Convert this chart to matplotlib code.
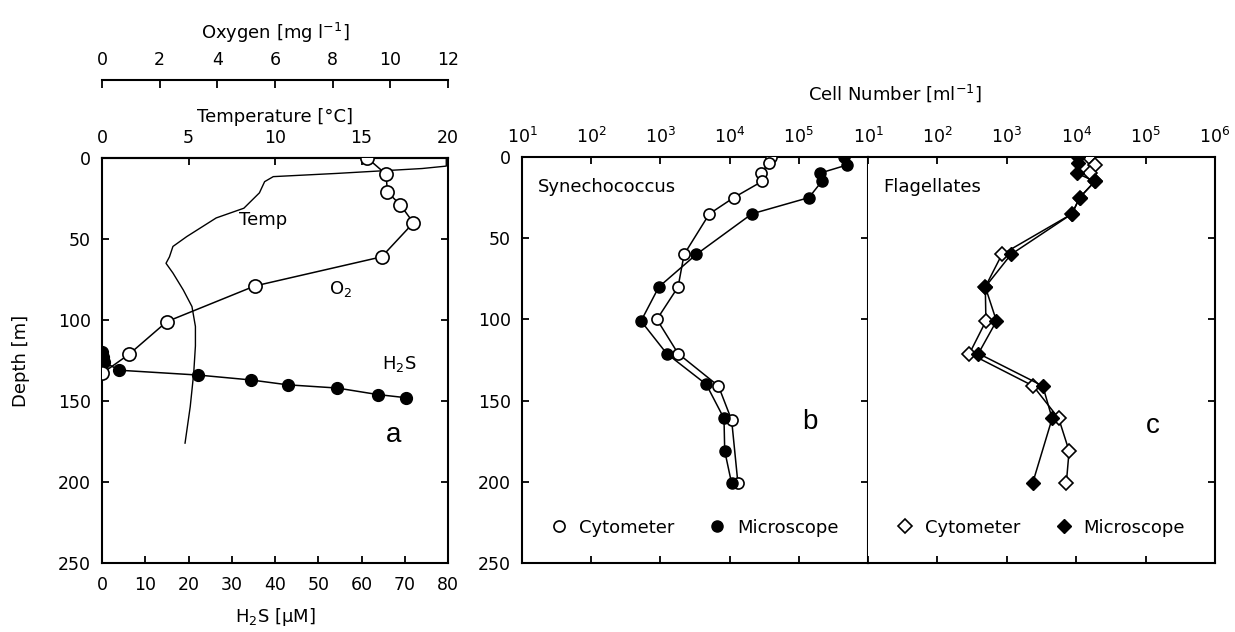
import matplotlib
matplotlib.use("Agg")
import matplotlib.pyplot as plt
import numpy as np

# ---------------- data ----------------
o2_depth = [0, 10, 21, 29, 40, 61, 79, 101, 121, 133]
o2_val = [9.2, 9.85, 9.9, 10.35, 10.8, 9.7, 5.3, 2.25, 0.95, 0.0]

h2s_depth = [120, 123, 126, 131, 134, 137, 140, 142, 146, 148]
h2s_val = [0, 0.2, 0.5, 4.0, 22.3, 34.4, 42.9, 54.4, 63.7, 70.4]

temp_depth = [0, 5, 6.5, 9.5, 11.5, 14.6, 21.5, 31, 37, 48.5, 54.6, 61, 65, 71,
              81.5, 91.7, 104, 116, 133, 153.5, 176]
temp_val = [19.9, 19.9, 18.5, 13.6, 9.9, 9.4, 9.1, 8.2, 6.6, 4.9, 4.1, 3.9, 3.7,
            4.1, 4.7, 5.2, 5.4, 5.4, 5.3, 5.1, 4.8]

syn_cyt_depth = [0, 4, 10, 15, 25, 35, 60, 80, 100, 121, 141, 162, 201]
syn_cyt = [4.0e4, 3.7e4, 2.8e4, 2.95e4, 1.15e4, 5.1e3, 2.2e3, 1.8e3, 890, 1.8e3,
           6.9e3, 1.07e4, 1.32e4]
syn_mic_depth = [0, 5, 10, 15, 25, 35, 60, 80, 101, 121, 140, 161, 181, 201]
syn_mic = [4.5e5, 4.9e5, 2.0e5, 2.15e5, 1.4e5, 2.1e4, 3.3e3, 950, 525, 1.23e3,
           4.6e3, 8.3e3, 8.5e3, 1.07e4]

fla_cyt_depth = [0, 5, 10, 15, 25, 35, 60, 80, 101, 121, 141, 161, 181, 201]
fla_cyt = [1.55e4, 1.86e4, 1.58e4, 1.86e4, 1.12e4, 8.7e3, 850, 490, 500, 290,
           2.4e3, 5.6e3, 7.9e3, 7.2e3]
fla_mic_depth = [0, 4, 10, 15, 25, 35, 60, 80, 101, 121, 141, 161, 201]
fla_mic = [1.07e4, 1.07e4, 1.02e4, 1.86e4, 1.12e4, 8.7e3, 1.15e3, 490, 710, 390,
           3.3e3, 4.5e3, 2.35e3]

depth_ticks = [0, 50, 100, 150, 200, 250]
h2s_ticks = [0, 10, 20, 30, 40, 50, 60, 70, 80]
temp_ticks = [0, 5, 10, 15, 20]
o2_ticks = [0, 2, 4, 6, 8, 10, 12]
log_ticks_b = [1e1, 1e2, 1e3, 1e4, 1e5]
log_labels_b = ["$10^1$", "$10^2$", "$10^3$", "$10^4$", "$10^5$"]
log_ticks_c = [1e1, 1e2, 1e3, 1e4, 1e5, 1e6]
log_labels_c = ["$10^1$", "$10^2$", "$10^3$", "$10^4$", "$10^5$", "$10^6$"]

# ---------------- style ----------------
plt.rcParams['font.family'] = ['DejaVu Sans']
plt.rcParams['mathtext.default'] = 'regular'
plt.rcParams['axes.linewidth'] = 1.5
W, H = 1235, 632
fig = plt.figure(figsize=(W / 100, H / 100), dpi=100)

def rect(l, r, t, b):
    return [l / W, (H - b) / H, (r - l) / W, (b - t) / H]

TFS = 12.5
LFS = 13
LW = 1.1

# ---------------- panel a ----------------
ax = fig.add_axes(rect(102, 448, 158, 563))
ax.set_xlim(0, 80)
ax.set_ylim(250, 0)
ax.set_xticks(h2s_ticks)
ax.set_yticks(depth_ticks)
ax.tick_params(axis='both', direction='in', length=5, width=1.3, labelsize=TFS)
ax.tick_params(axis='x', pad=9, top=False)
ax.tick_params(axis='y', pad=8, right=True)
ax.set_xlabel("H$_2$S [$\\mu$M]", fontsize=LFS, labelpad=9)
ax.set_ylabel("Depth [m]", fontsize=LFS, labelpad=20)
ax.plot(h2s_val, h2s_depth, '-', color='black', lw=LW, marker='o', ms=8.5,
        mfc='black', mec='black', zorder=4)

axt = ax.twiny()
axt.set_xlim(0, 20)
axt.set_xticks(temp_ticks)
axt.tick_params(axis='x', direction='in', length=5, width=1.3, labelsize=TFS, pad=8)
axt.set_xlabel("Temperature [°C]", fontsize=LFS, labelpad=5)
for s in ['left', 'right', 'bottom']:
    axt.spines[s].set_visible(False)
axt.plot(temp_val, temp_depth, '-', color='black', lw=1.0, zorder=3)

axo = ax.twiny()
axo.set_xlim(0, 12)
axo.set_xticks(o2_ticks)
axo.spines['top'].set_position(('outward', 56))
for s in ['left', 'right', 'bottom']:
    axo.spines[s].set_visible(False)
axo.tick_params(axis='x', direction='in', length=6, width=1.3, labelsize=TFS, pad=8)
axo.set_xlabel("Oxygen [mg l$^{-1}$]", fontsize=LFS, labelpad=9)
axo.plot(o2_val, o2_depth, '-', color='black', lw=LW, marker='o', ms=9.5,
         mfc='white', mec='black', mew=1.2, zorder=5)

ax.text(0.395, 0.835, "Temp", transform=ax.transAxes, fontsize=LFS)
ax.text(0.655, 0.665, "O$_2$", transform=ax.transAxes, fontsize=LFS)
ax.text(0.81, 0.48, "H$_2$S", transform=ax.transAxes, fontsize=LFS)
ax.text(0.82, 0.30, "a", transform=ax.transAxes, fontsize=20,
        family='Liberation Sans')

# ---------------- panels b, c ----------------
axb = fig.add_axes(rect(522, 868, 157, 563))
axc = fig.add_axes(rect(868, 1215, 157, 563))

for a in (axb, axc):
    a.set_xscale('log')
    a.set_xlim(1e1, 1e6)
    a.set_ylim(250, 0)
    a.minorticks_off()
    a.set_yticks(depth_ticks)
    a.xaxis.tick_top()
    a.tick_params(axis='both', direction='in', length=5, width=1.3, labelsize=TFS)
    a.tick_params(axis='x', top=True, bottom=True, pad=7)

axb.set_xticks(log_ticks_b)
axb.set_xticklabels(log_labels_b)
axb.tick_params(axis='y', right=True, pad=8)
axc.set_xticks(log_ticks_c)
axc.set_xticklabels(log_labels_c)
axc.tick_params(axis='y', left=False, right=True, labelleft=False)
axc.spines['left'].set_visible(False)

hb1, = axb.plot(syn_cyt, syn_cyt_depth, '-', color='black', lw=LW, marker='o',
                ms=8, mfc='white', mec='black', mew=1.2, zorder=4,
                label='Cytometer')
hb2, = axb.plot(syn_mic, syn_mic_depth, '-', color='black', lw=LW, marker='o',
                ms=8, mfc='black', mec='black', zorder=5, label='Microscope')
axb.text(0.045, 0.915, "Synechococcus", transform=axb.transAxes, fontsize=LFS)
axb.text(0.81, 0.33, "b", transform=axb.transAxes, fontsize=20,
         family='Liberation Sans')
lb = axb.legend(handles=[hb1, hb2], loc='lower center', bbox_to_anchor=(0.5, 0.025),
                ncol=2, frameon=False, fontsize=LFS, handlelength=0.8,
                handletextpad=0.7, columnspacing=2.0)
for lh in lb.get_lines():
    lh.set_linestyle('none')

hc1, = axc.plot(fla_cyt, fla_cyt_depth, '-', color='black', lw=LW, marker='D',
                ms=7, mfc='white', mec='black', mew=1.2, zorder=4,
                label='Cytometer')
hc2, = axc.plot(fla_mic, fla_mic_depth, '-', color='black', lw=LW, marker='D',
                ms=7, mfc='black', mec='black', zorder=5, label='Microscope')
axc.text(0.045, 0.915, "Flagellates", transform=axc.transAxes, fontsize=LFS)
axc.text(0.80, 0.32, "c", transform=axc.transAxes, fontsize=20,
         family='Liberation Sans')
lc = axc.legend(handles=[hc1, hc2], loc='lower center', bbox_to_anchor=(0.5, 0.025),
                ncol=2, frameon=False, fontsize=LFS, handlelength=0.8,
                handletextpad=0.7, columnspacing=2.0)
for lh in lc.get_lines():
    lh.set_linestyle('none')

fig.text(895 / W, 1 - 93 / H, "Cell Number [ml$^{-1}$]", fontsize=LFS,
         ha='center', va='center')

fig.savefig("out.png", dpi=100, facecolor='white')
